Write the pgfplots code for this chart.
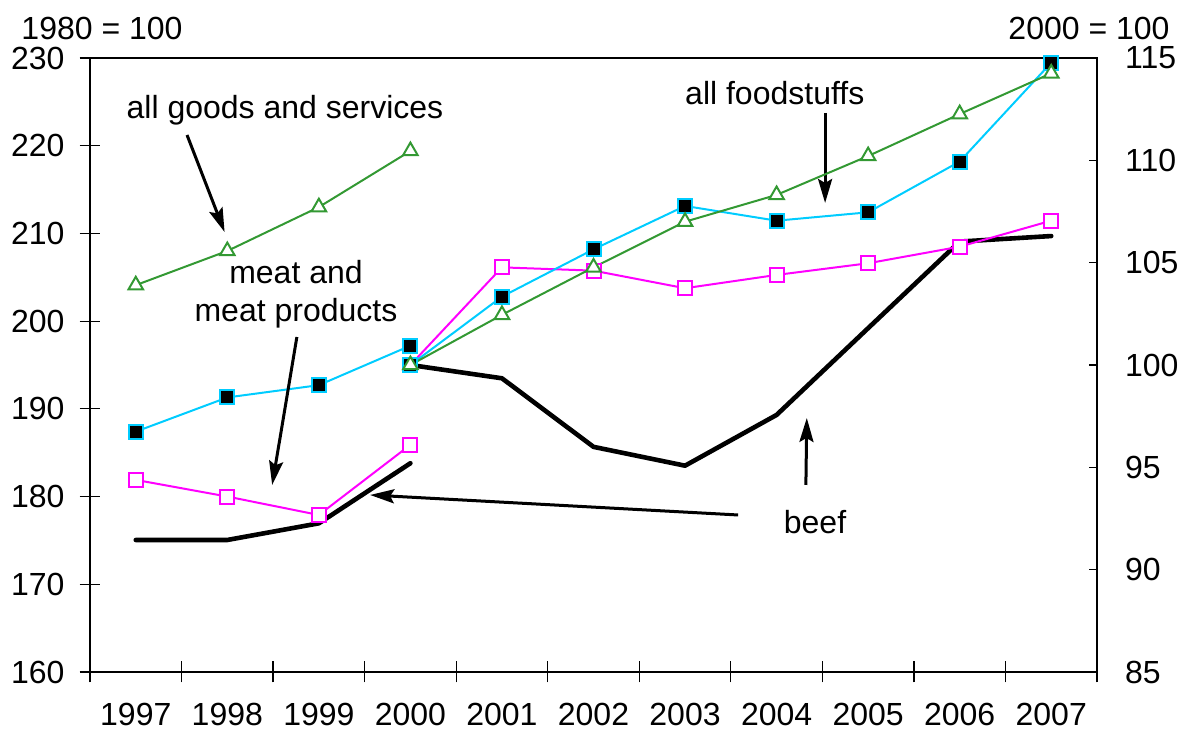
\documentclass[border=0pt]{standalone}
\usepackage{pgfplots}
\pgfplotsset{compat=1.18}
\usepackage{fontspec}
\setmainfont{Liberation Sans}
\usetikzlibrary{arrows.meta}
\definecolor{cgreen}{RGB}{51,153,51}
\definecolor{ccyan}{RGB}{0,204,255}
\definecolor{cmag}{RGB}{255,0,255}
\tikzset{arr/.style={black, line width=1.5pt, -{Stealth[length=12pt,width=7pt,inset=2pt]}}}
\begin{document}
\begin{tikzpicture}[font=\fontsize{16}{19}\selectfont]
\pgfplotsset{
  base/.style={
    scale only axis, width=503.5pt, height=307pt,
    xmin=1996.5, xmax=2007.5, clip=false,
    /pgf/number format/assume math mode=true,
    tick label style={font=\fontsize{16}{19}\selectfont},
    axis line style={line width=1.1pt},
    tick style={line width=0.6pt, black},
  },
  beef/.style={black, line width=2.3pt, line cap=round, line join=round, no marks},
  meat/.style={cmag, line width=1pt, mark=square*, mark size=3.5pt, mark options={fill=white, draw=cmag, line width=1pt}},
  food/.style={ccyan, line width=1pt, mark=square*, mark size=3.5pt, mark options={fill=black, draw=ccyan, line width=1pt}},
  goods/.style={cgreen, line width=1pt, mark=triangle*, mark size=4.2pt, mark options={fill=white, draw=cgreen, line width=1pt}},
}
\begin{axis}[base, name=a1,
  ymin=160, ymax=230, ytick={160,170,...,230},
  xtick={1996.5,1997.5,1998.5,1999.5,2000.5,2001.5,2002.5,2003.5,2004.5,2005.5,2006.5,2007.5},
  x tick label as interval,
  xticklabels={1997,1998,1999,2000,2001,2002,2003,2004,2005,2006,2007},
  xtick pos=bottom, ytick pos=left,
  tick align=center, major tick length=10.5pt,
  xticklabel style={yshift=-7pt},
  yticklabel style={xshift=-4pt},
]
\addplot[beef] coordinates {(1997,175.05) (1998,175.05) (1999,176.95) (2000,183.8)};
\addplot[meat] coordinates {(1997,181.9) (1998,180.0) (1999,177.9) (2000,185.9)};
\addplot[food] coordinates {(1997,187.4) (1998,191.3) (1999,192.7) (2000,197.2)};
\addplot[goods] coordinates {(1997,204.1) (1998,208.0) (1999,213.0) (2000,219.4)};
\node at (axis cs:1998.63,224.07) {all goods and services};
\draw[arr] (axis cs:1997.56,221.22) -- (axis cs:1997.97,210.16);
\node[align=center] at (axis cs:1998.75,203.1) {meat and\\meat products};
\draw[arr] (axis cs:1998.76,198.19) -- (axis cs:1998.49,181.32);
\node at (axis cs:2003.98,226.0) {all foodstuffs};
\draw[arr] (axis cs:2004.53,223.73) -- (axis cs:2004.53,213.47);
\node at (axis cs:2004.42,177.1) {beef};
\draw[arr] (axis cs:2003.58,177.9) -- (axis cs:1999.56,180.18);
\draw[arr] (axis cs:2004.32,181.32) -- (axis cs:2004.33,188.96);
\node at (rel axis cs:0,1) [xshift=6pt, yshift=15pt] {1980 = 100};
\node at (rel axis cs:1,1) [xshift=-4pt, yshift=15pt] {2000 = 100};
\end{axis}
\begin{axis}[base,
  ymin=85, ymax=115, ytick={85,90,...,115},
  axis y line*=right, axis x line=none,
  tick align=inside, major tick length=4pt,
  yticklabel style={xshift=10.5pt},
]
\addplot[beef] coordinates {(2000,100.0) (2001,99.35) (2002,96.0) (2003,95.08) (2004,97.56) (2005,101.8) (2006,106.03) (2007,106.3)};
\addplot[meat] coordinates {(2000,100) (2001,104.77) (2002,104.61) (2003,103.75) (2004,104.4) (2005,104.97) (2006,105.78) (2007,107.05)};
\addplot[food] coordinates {(2000,100) (2001,103.34) (2002,105.65) (2003,107.77) (2004,107.05) (2005,107.46) (2006,109.94) (2007,114.77)};
\addplot[goods] coordinates {(2000,100) (2001,102.45) (2002,104.77) (2003,107.0) (2004,108.31) (2005,110.21) (2006,112.26) (2007,114.25)};
\end{axis}
\pgfresetboundingbox
\path (a1.south west) ++(-45pt,-29.5pt);
\path (a1.north east) ++(41pt,29pt);
\end{tikzpicture}
\end{document}
